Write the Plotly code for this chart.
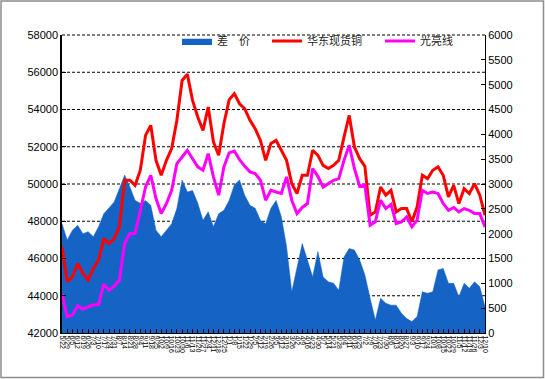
import plotly.graph_objects as go

dates = ["5/22", "5/29", "6/5", "6/12", "6/19", "6/26", "7/3", "7/10", "7/17", "7/24", "7/31",
         "8/7", "8/14", "8/21", "8/28", "9/4", "9/11", "9/18", "9/25", "10/2", "10/9", "10/16",
         "10/23", "10/30", "11/6", "11/13", "11/20", "11/27", "12/4", "12/11", "12/18", "12/25",
         "1/1", "1/8", "1/15", "1/22", "1/29", "2/5", "2/12", "2/19", "2/26", "3/5", "3/12",
         "3/19", "3/26", "4/2", "4/9", "4/16", "4/23", "4/30", "5/7", "5/14", "5/21", "5/28",
         "6/4", "6/11", "6/18", "6/25", "7/2", "7/9", "7/16", "7/23", "7/30", "8/6", "8/13",
         "8/20", "8/27", "9/3", "9/10", "9/17", "9/24", "10/1", "10/8", "10/15", "10/22",
         "10/29", "11/5", "11/12", "11/19", "11/26", "12/3", "12/10"]

# 华东现货铜 (left axis)
spot = [46630, 44750, 45020, 45730, 45200, 44840, 45460, 45910, 47070, 46800, 47070,
        47700, 50200, 50200, 49930, 50740, 52610, 53150, 51270, 50470, 51270, 51900,
        53420, 55560, 55900, 54490, 53600, 52880, 54130, 52260, 51540, 53240, 54520,
        54850, 54310, 54040, 53420, 52970, 52340, 51270, 52170, 52340, 51810, 51270,
        50020, 49490, 50470, 50470, 51810, 51540, 51000, 50830, 51000, 51270, 52520,
        53680, 51990, 51360, 50950, 48320, 48500, 49840, 49400, 49660, 48500, 48680,
        48680, 47970, 48770, 50470, 50290, 50740, 50920, 50470, 49310, 49930, 48950,
        49750, 49490, 50020, 49400, 48320]

# 光亮线 (left axis)
bright = [44120, 42870, 42960, 43460, 43270, 43410, 43500, 43530, 44620, 44300, 44520,
          44840, 46810, 47340, 47340, 48590, 49840, 50470, 49220, 48410, 48950, 49660,
          51090, 51450, 51810, 51360, 50920, 50740, 51630, 50380, 49400, 50920, 51670,
          51770, 51310, 50950, 50650, 50560, 50200, 49130, 49660, 49570, 49490, 50380,
          49130, 48410, 48740, 48950, 50830, 50410, 49840, 50020, 50200, 50290, 51270,
          52080, 50830, 49880, 49930, 47790, 47970, 49130, 48680, 48910, 47880, 47970,
          48230, 47700, 48060, 49660, 49490, 49570, 49490, 48950, 48590, 48740, 48500,
          48680, 48590, 48410, 48410, 47700]

# 差价 (right axis)
spread = [2200, 1870, 2070, 2170, 2000, 2040, 1940, 2140, 2400, 2510, 2640,
          2910, 3180, 2940, 2670, 2610, 2670, 2570, 2070, 1940, 2070, 2200,
          2510, 3080, 2840, 2870, 2610, 2270, 2440, 2140, 2400, 2470, 2670,
          2980, 3080, 2770, 2570, 2510, 2270, 2200, 2510, 2670, 2340, 1740,
          830, 1330, 1800, 1470, 1130, 1640, 1130, 1030, 1000, 860, 1530,
          1700, 1670, 1470, 1170, 700, 260, 700, 600, 560, 560, 400,
          290, 230, 330, 830, 800, 830, 1270, 1300, 1000, 1000, 730,
          1000, 900, 1030, 930, 530]

LEFT_RANGE = [42000, 58000]
LEFT_STEP = 2000

BLUE = "#1563C4"
FONT = "Liberation Sans, Arial, sans-serif"
CJK = "Noto Sans CJK SC, sans-serif"

fig = go.Figure()
# spread on the base (right-side) axis so the price lines draw on top of it
fig.add_trace(go.Scatter(x=dates, y=spread, name="差　价", yaxis="y", mode="lines",
                         fill="tozeroy", fillcolor=BLUE, line=dict(color=BLUE, width=0.5),
                         legend="legend"))
fig.add_trace(go.Scatter(x=dates, y=spot, name="华东现货铜", yaxis="y2", mode="lines",
                         line=dict(color="#FF0000", width=3), legend="legend2"))
fig.add_trace(go.Scatter(x=dates, y=bright, name="光亮线", yaxis="y2", mode="lines",
                         line=dict(color="#FF00FF", width=3), legend="legend3"))

W, H = 545, 379
ml, mr, mt, mb = 62, 60, 35, 46
pw, ph = W - ml - mr, H - mt - mb

def px_x(p):
    return (p - ml) / pw

def px_y(p):
    return (H - mb - p) / ph

leg_common = dict(orientation="h", bgcolor="rgba(0,0,0,0)", borderwidth=0,
                  font=dict(family=CJK, size=11, color="#222"),
                  yanchor="middle", xanchor="left", itemwidth=30)

# dashed gridlines of the left axis, drawn beneath all traces
shapes = []
for v in range(LEFT_RANGE[0] + LEFT_STEP, LEFT_RANGE[1] + 1, LEFT_STEP):
    yp = (v - LEFT_RANGE[0]) / (LEFT_RANGE[1] - LEFT_RANGE[0])
    shapes.append(dict(type="line", xref="paper", yref="paper", x0=0, x1=1, y0=yp, y1=yp,
                       line=dict(color="black", width=1, dash="3px,2px"), layer="below"))
shapes.append(dict(type="rect", xref="paper", yref="paper",
                   x0=px_x(1), x1=px_x(543.5), y0=px_y(377.5), y1=px_y(1),
                   line=dict(color="#8C8C8C", width=1.5), fillcolor="rgba(0,0,0,0)",
                   layer="below"))

fig.update_layout(
    width=W, height=H,
    margin=dict(l=ml, r=mr, t=mt, b=mb, autoexpand=False),
    paper_bgcolor="white", plot_bgcolor="rgba(0,0,0,0)",
    showlegend=True,
    legend=dict(x=px_x(177), y=px_y(41), **leg_common),
    legend2=dict(x=px_x(267), y=px_y(41), **leg_common),
    legend3=dict(x=px_x(380), y=px_y(41), **leg_common),
    xaxis=dict(type="category", range=[0, len(dates) - 1], showline=True,
               linecolor="black", linewidth=1, ticks="inside", ticklen=4,
               tickcolor="black", tickangle=90, showgrid=False, zeroline=False,
               tickfont=dict(family=FONT, size=7, color="black"),
               tickmode="array", tickvals=dates, ticktext=dates),
    yaxis=dict(range=[0, 6000], dtick=500, side="right", tickformat="d",
               showline=True, linecolor="black", linewidth=1, ticks="inside",
               ticklen=4, tickcolor="black", showgrid=False, zeroline=False,
               tickfont=dict(family=FONT, size=11, color="black")),
    yaxis2=dict(range=LEFT_RANGE, dtick=LEFT_STEP, side="left", overlaying="y",
                tickformat="d", showline=True, linecolor="black",
                linewidth=1.5, ticks="inside", ticklen=4, tickcolor="black",
                showgrid=False, zeroline=False,
                tickfont=dict(family=FONT, size=11, color="black")),
    shapes=shapes,
)

fig.write_html("out.html", config={"displayModeBar": False},
               post_script="document.body.style.margin='0';")
